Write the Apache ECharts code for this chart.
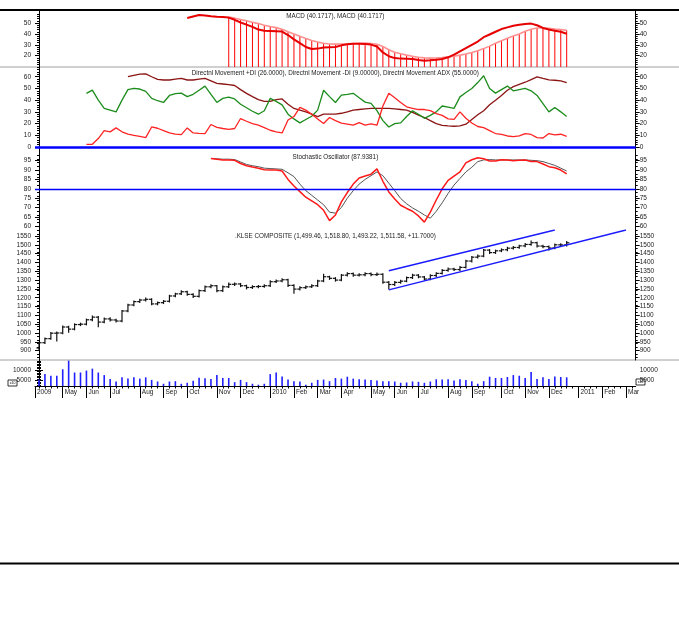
<!DOCTYPE html>
<html><head><meta charset="utf-8">
<script src="https://cdn.jsdelivr.net/npm/echarts@6/dist/echarts.min.js"></script>
<style>html,body{margin:0;padding:0;background:#fff}#c{width:679px;height:635px}</style>
</head><body><div id="c"></div>
<script>
// ---------- DATA ----------
const FIRST_WEEK = '2009-04-03';          // Friday of the first weekly bar
const FIRST_MONTH = [2009, 3];            // Apr 2009 (month 0-based)
const MONTH_COUNT = 24;                   // Apr 2009 .. Mar 2011
const MONTH_NAMES = ['Jan','Feb','Mar','Apr','May','Jun','Jul','Aug','Sep','Oct','Nov','Dec'];

const priceOpen = [915,945,968,999,1000,1034,1022,1048,1050,1075,
 1090,1062,1080,1074,1068,1125,1159,1178,1187,1191,
 1165,1172,1180,1210,1222,1234,1219,1208,1240,1262,
 1268,1240,1262,1276,1278,1268,1258,1263,1264,1268,
 1291,1295,1302,1270,1249,1257,1262,1268,1295,1319,
 1310,1300,1328,1337,1328,1330,1337,1331,1333,1288,
 1275,1287,1294,1314,1328,1318,1306,1326,1338,1355,
 1363,1360,1372,1408,1430,1436,1470,1456,1466,1472,
 1481,1485,1494,1502,1512,1493,1490,1482,1500,1499.46];
const priceHigh = [948,972,1003,1006,1040,1038,1052,1056,1079,1096,
 1094,1085,1086,1078,1128,1163,1182,1192,1198,1194,
 1176,1184,1214,1226,1240,1237,1222,1244,1266,1273,
 1270,1266,1284,1283,1281,1271,1268,1269,1273,1296,
 1300,1308,1305,1273,1262,1266,1273,1299,1333,1322,
 1314,1332,1342,1340,1336,1342,1340,1340,1336,1292,
 1292,1299,1318,1333,1331,1321,1330,1342,1360,1368,
 1367,1377,1412,1434,1442,1474,1473,1470,1477,1486,
 1490,1498,1507,1522,1515,1497,1493,1504,1506,1518.80];
const priceLow = [905,940,964,955,996,1005,1018,1042,1046,1070,
 1035,1058,1068,1063,1064,1120,1154,1173,1182,1160,
 1160,1167,1176,1205,1218,1214,1202,1204,1236,1257,
 1234,1236,1258,1270,1263,1250,1253,1257,1260,1264,
 1286,1290,1264,1225,1244,1252,1258,1264,1291,1304,
 1294,1296,1323,1322,1323,1325,1325,1326,1282,1250,
 1270,1282,1290,1309,1313,1300,1302,1321,1334,1350,
 1354,1355,1368,1403,1425,1432,1451,1451,1461,1467,
 1476,1480,1489,1497,1488,1484,1470,1478,1494,1493.22];
const priceClose = [945,968,999,1000,1034,1022,1048,1050,1075,1090,
 1062,1080,1074,1068,1125,1159,1178,1187,1191,1165,
 1172,1180,1210,1222,1234,1219,1208,1240,1262,1268,
 1240,1262,1276,1278,1268,1258,1263,1264,1268,1291,
 1295,1302,1270,1249,1257,1262,1268,1295,1319,1310,
 1300,1328,1337,1328,1330,1337,1331,1333,1288,1275,
 1287,1294,1314,1328,1318,1306,1326,1338,1355,1363,
 1360,1372,1408,1430,1436,1470,1456,1466,1472,1481,
 1485,1494,1502,1512,1493,1490,1482,1500,1499.46,1511.58];
const volume = [5360,8090,7280,7280,10500,14830,8890,8890,9850,10820,
 8890,7610,5680,4400,6480,5840,6480,5840,6480,5200,
 4400,3270,4400,4560,3270,3760,4720,6320,6000,5680,
 7610,6160,6160,4070,5200,4070,3270,2790,3270,8090,
 8890,6960,5360,4560,4400,2790,3760,5200,5360,4560,
 6160,5840,6800,5840,5520,5360,5200,4880,4560,4560,
 4400,3760,3920,4400,4240,3760,4400,5520,5360,5520,
 4880,5520,5200,4560,3270,4560,6800,6160,6160,6640,
 7610,7280,6160,9210,5680,6480,5680,6960,6640,6500];

// trend channel lines: [weekIndex, price]
const channelUpper = [[59,1353],[87,1584]];
const channelLower = [[59,1244],[99,1584]];

const MACD_START = 25;
const macdLine = [54.6,56.0,57.4,57.0,56.2,55.8,55.6,55.0,53.0,50.5,
 48.5,46.5,44.0,43.0,42.8,42.5,42.2,39.0,35.0,31.5,
 28.0,26.2,26.5,27.5,27.8,28.0,29.5,30.5,31.0,31.0,
 30.8,30.2,28.5,23.0,19.5,17.8,17.3,17.2,17.0,16.0,
 15.4,15.8,16.3,17.0,18.5,21.0,24.0,27.0,30.0,33.0,
 37.0,39.5,42.0,44.5,46.0,47.5,48.5,49.2,49.5,48.0,
 45.5,44.0,43.0,42.0,40.17];
const HIST_START = 32;
const macdHist = [55.5,54.5,53.2,52.0,50.8,49.5,48.0,46.8,45.8,44.2,
 42.0,40.0,37.8,35.8,34.0,32.5,31.5,30.8,30.6,30.7,
 30.9,31.2,31.5,31.6,31.2,30.5,28.5,25.5,23.2,21.8,
 20.5,19.4,18.6,18.0,17.8,17.9,18.3,18.9,19.6,20.5,
 21.6,23.0,24.6,26.5,28.8,31.5,33.8,36.0,38.0,40.0,
 42.5,44.3,45.4,45.5,45.2,44.5,44.0,43.3];

const DI_START = 8;
const plusDI = [45.8,48.6,40,33,31.5,30,40,49,50,49.5,
 47.5,41.5,39.5,38,44,45.5,46,43,45,48.5,
 52,45,38,41.5,42.5,41,36.5,33.5,30.5,28,
 31,41.5,39,36,28,24,20.6,23.5,26.3,31.5,
 48.5,43,38,44.3,45,45.8,42,38.3,37.3,31,
 22.5,17.1,20,20.6,26,31,28,24.5,27,30,
 35,34,33,42.8,46.5,50,55,60.8,50,46,
 49,52,48,49,50,48,44,37,30,33.8,
 30,26];
const minusDI = [2.3,2.3,7.2,14,12.9,16.3,13,11,10,9,
 8,17.1,16,14,12,11,10.6,16.3,12,11.7,
 11.5,19.2,16.8,15.8,15,15.8,24.3,22,20,18.6,
 16.5,14.3,13,12,23,26,33.8,31.5,28,24,
 20,25.2,22.5,20.4,19.5,18.6,20.8,18.6,19.8,18.6,
 35,45.8,42,38,34.3,33,32,32,31,28.5,
 27,24,23.5,30,24.5,20.5,17.5,16.5,14,11.5,
 10.8,9.4,8.8,9.5,11.5,10.7,8,7.7,11.5,10.3,
 10.9,9];
const ADX_START = 15;
const adx = [60,61.2,62.3,62.5,60,57.8,57.2,57.2,58,58.6,
 57.2,57.2,58,58.6,56.5,54.3,53.8,53.3,52.5,49,
 45.8,43,40.5,39,39,40.5,41,36.5,32.9,31.5,
 30,28,26,28,28,28,28.8,30,31.4,32,
 32.5,32.9,32.9,32.9,32.9,32.5,32,31.4,29.5,27.2,
 25.2,22.5,20,18.5,18,17.7,18,19.5,23.5,27.5,
 31,36,40,44,48.5,51.5,53.5,55.3,57.5,59.8,
 58.5,57.3,57,56.5,55];

const STOCH_START = 29;
const stochK = [96.2,95.8,95.4,95.4,95.2,93.5,92.3,91.6,91,90.2,
 90,90,89.5,85,81.5,78.5,75.5,73.5,71.5,68.5,
 63,66,73,78,82.5,85.8,86.8,87.8,90.6,84,
 78.3,74.5,71.2,69.5,68,65.5,62.2,67.5,74,80,
 84.5,86.8,89,93.8,95.5,96.6,96,94.8,94.8,95.5,
 95.4,95,95.2,95.4,94.6,94.5,93.2,91.8,91.2,90,
 87.94];
const stochD = [96.2,96,95.8,95.8,95.6,94.3,93,92.3,91.8,91,
 90.8,90.6,90.4,88.5,86.5,82.5,79,76.5,74,71.5,
 67.5,67,70,75,79,82.5,85,87,89,87,
 83,79,74.8,72,69.8,68,66,64.3,68,72.5,
 77.5,82,85.5,89,91.5,94.5,95.4,95.6,95.4,95.4,
 95.4,95.4,95.4,95.4,95.2,95,94.5,93.5,92.5,91,
 89.5];

// tick labels per pane
const macdTicks = [20,30,40,50];
const dmiTicks = [0,10,20,30,40,50,60];
const stochTicks = [60,65,70,75,80,85,90,95];
const priceTicks = [900,950,1000,1050,1100,1150,1200,1250,1300,1350,1400,1450,1500,1550];
const volTicks = [5000,10000];
const STOCH_LEVEL = 80;
const DMI_LEVEL = 0;

const titles = {
  macd: 'MACD (40.1717), MACD (40.1717)',
  dmi: 'Directnl Movement +DI (26.0000), Directnl Movement -DI (9.00000), Directnl Movement ADX (55.0000)',
  stoch: 'Stochastic Oscillator (87.9381)',
  price: '.KLSE COMPOSITE (1,499.46, 1,518.80, 1,493.22, 1,511.58, +11.7000)'
};

// ---------- LAYOUT ----------
const FONT = '"Liberation Sans", Arial, sans-serif';
const XMIN = -0.675, XMAX = 100.64;
const GL = 35, GR = 43.3;
const panes = [
  {top:10, height:57, min:9.6, max:62, ticks:macdTicks},
  {top:67, height:80, min:0, max:68.3, ticks:dmiTicks},
  {top:147, height:83, min:58.0, max:102.3, ticks:stochTicks},
  {top:230, height:130, min:847, max:1584, ticks:priceTicks},
  {top:360, height:26, min:2150, max:15150, ticks:volTicks}
];

const weekMs = 7*864e5;
const firstFri = Date.parse(FIRST_WEEK + 'T00:00:00Z');
const monthTickVals = [], monthLabelMap = {};
for (let k = 0; k < MONTH_COUNT; k++) {
  const y = FIRST_MONTH[0] + Math.floor((FIRST_MONTH[1]+k)/12);
  const m = (FIRST_MONTH[1]+k) % 12;
  let t = Math.floor((Date.UTC(y, m, 1) - firstFri)/weekMs);
  if (t < XMIN) t = XMIN;
  monthTickVals.push(t);
  monthLabelMap[t.toFixed(3)] = (k === 0 || m === 0) ? String(y) : MONTH_NAMES[m];
}
const weekTickVals = [];
for (let i = 0; i <= 100; i++) weekTickVals.push(i);

const pairs = (start, arr) => arr.map((v, k) => [start + k, v]);

const grids = panes.map(p => ({left:GL, right:GR, top:p.top, height:p.height}));
const xAxes = panes.map((p, g) => ({type:'value', gridIndex:g, min:XMIN, max:XMAX, show:false}));
xAxes[4] = {type:'value', gridIndex:4, min:XMIN, max:XMAX, position:'bottom',
  splitLine:{show:false},
  axisLine:{show:true, lineStyle:{color:'#000', width:1}},
  axisTick:{show:true, customValues:monthTickVals, length:12, lineStyle:{color:'#000', width:1}},
  axisLabel:{show:true, customValues:monthTickVals, align:'left', padding:[0,0,0,2], margin:3,
    fontSize:6.5, color:'#222', fontFamily:FONT,
    formatter: v => monthLabelMap[Number(v).toFixed(3)] || ''}};
xAxes.push({type:'value', gridIndex:4, min:XMIN, max:XMAX, position:'bottom',
  splitLine:{show:false}, axisLine:{show:false}, axisLabel:{show:false},
  axisTick:{show:true, customValues:weekTickVals, length:2.5, lineStyle:{color:'#000'}}});

const yAxes = [];
panes.forEach((p, g) => {
  ['left','right'].forEach(pos => {
    yAxes.push({type:'value', gridIndex:g, position:pos, min:p.min, max:p.max,
      splitLine:{show:false},
      axisLine:{show:true, lineStyle:{color:'#000', width:1}},
      axisTick:{show:true, length:4, customValues:p.ticks, lineStyle:{color:'#000'}},
      minorTick:{show:true, splitNumber:5, length:2, lineStyle:{color:'#000'}},
      axisLabel:{show:true, customValues:p.ticks, fontSize:6.5, color:'#222', margin:4,
        fontFamily:FONT, formatter: v => String(v)}});
  });
});

const ohlcData = priceClose.map((c, i) => [i, priceOpen[i], priceHigh[i], priceLow[i], c]);
const volData = pairs(0, volume);

const lineS = (xi, yi, data, color, width, extra) => Object.assign({
  type:'line', xAxisIndex:xi, yAxisIndex:yi, data, symbol:'none', silent:true,
  lineStyle:{color, width}, itemStyle:{color}}, extra || {});

const series = [
  {type:'bar', xAxisIndex:0, yAxisIndex:0, data:pairs(HIST_START, macdHist), barWidth:1,
    itemStyle:{color:'#ff0000'}, silent:true, clip:true},
  lineS(0, 0, pairs(HIST_START, macdHist), '#ff9090', 1.6),
  lineS(0, 0, pairs(MACD_START, macdLine), '#e60000', 2),
  lineS(1, 2, pairs(ADX_START, adx), '#8b1414', 1.3),
  lineS(1, 2, pairs(DI_START, plusDI), '#1c8c1c', 1.3),
  lineS(1, 2, pairs(DI_START, minusDI), '#ff2424', 1.3, {
    markLine:{silent:true, symbol:'none', label:{show:false}, animation:false,
      lineStyle:{color:'#0000ff', width:2.5, type:'solid'}, data:[{yAxis:DMI_LEVEL}]}}),
  lineS(2, 4, pairs(STOCH_START, stochD), '#555555', 1),
  lineS(2, 4, pairs(STOCH_START, stochK), '#ff1a1a', 1.5, {
    markLine:{silent:true, symbol:'none', label:{show:false}, animation:false,
      lineStyle:{color:'#0000ff', width:1.3, type:'solid'}, data:[{yAxis:STOCH_LEVEL}]}}),
  lineS(3, 6, channelUpper, '#1a1aff', 1.3),
  lineS(3, 6, channelLower, '#1a1aff', 1.3),
  {type:'custom', xAxisIndex:3, yAxisIndex:6, data:ohlcData, silent:true, clip:true,
    encode:{x:0, y:[1,2,3,4]},
    renderItem(params, api) {
      const x = api.value(0);
      const o = api.coord([x, api.value(1)]);
      const h = api.coord([x, api.value(2)]);
      const l = api.coord([x, api.value(3)]);
      const c = api.coord([x, api.value(4)]);
      const st = {stroke:'#111', lineWidth:1.2};
      const w = 2.6;
      return {type:'group', children:[
        {type:'line', shape:{x1:h[0], y1:h[1]-0.5, x2:l[0], y2:l[1]+0.5}, style:st},
        {type:'line', shape:{x1:o[0]-w, y1:o[1], x2:o[0], y2:o[1]}, style:st},
        {type:'line', shape:{x1:c[0], y1:c[1], x2:c[0]+w, y2:c[1]}, style:st}
      ]};
    }},
  {type:'bar', xAxisIndex:4, yAxisIndex:8, data:volData, barWidth:1.6,
    itemStyle:{color:'#1f1fff'}, silent:true, clip:true}
];

const centerX = GL + (679 - GL - GR)/2;
const titleText = (txt, y) => ({type:'text', x:centerX, y, silent:true,
  style:{text:txt, fill:'#222', font:'6.3px ' + FONT, textAlign:'center', textVerticalAlign:'middle'}});
const hline = (y, color, w) => ({type:'line', silent:true, shape:{x1:0, y1:y, x2:679, y2:y},
  style:{stroke:color, lineWidth:w}});
const scaleBox = (x, y) => ({type:'group', x, y, silent:true, children:[
  {type:'rect', shape:{x:0, y:0, width:9, height:6}, style:{fill:'#fff', stroke:'#000', lineWidth:0.8}},
  {type:'text', x:4.5, y:3, style:{text:'x10', font:'3.5px ' + FONT, fill:'#000', textAlign:'center', textVerticalAlign:'middle'}}]});

const graphic = [
  hline(10, '#000', 2),
  hline(67, '#a0a0a0', 1),
  hline(360, '#a0a0a0', 1),
  hline(563.5, '#000', 2),
  titleText(titles.macd, 16),
  titleText(titles.dmi, 73),
  titleText(titles.stoch, 157),
  titleText(titles.price, 236),
  scaleBox(8, 380),
  scaleBox(636, 379)
];

const chart = echarts.init(document.getElementById('c'), null, {renderer:'canvas'});
chart.setOption({
  animation:false,
  backgroundColor:'#fff',
  textStyle:{fontFamily:FONT},
  grid:grids, xAxis:xAxes, yAxis:yAxes, series, graphic
});
</script></body></html>
